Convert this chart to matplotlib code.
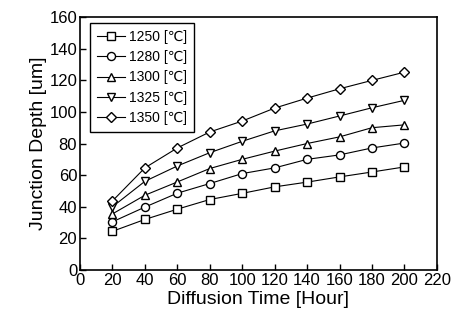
import matplotlib
matplotlib.use("Agg")
import matplotlib.pyplot as plt

plt.rcParams['font.family'] = ['Liberation Sans Narrow', 'Liberation Sans', 'DejaVu Sans']

# Diffusion time (hour)
hours = [20, 40, 60, 80, 100, 120, 140, 160, 180, 200]

# Junction depth (um) per temperature
depth_1250 = [24.5, 32, 38.5, 44.6, 48.5, 52.6, 55.6, 58.9, 62, 65.2]
depth_1280 = [30.5, 39.8, 48.6, 54.7, 61, 64.6, 70, 72.8, 77.2, 80.3]
depth_1300 = [35.5, 47.3, 55.7, 64.2, 70, 75.2, 80, 84.2, 90, 91.8]
depth_1325 = [40, 56.1, 65.8, 74.2, 81.4, 88, 92.3, 97.4, 102.6, 107.3]
depth_1350 = [43.7, 64.6, 77.2, 87.3, 94.2, 102.4, 108.7, 114.6, 119.9, 125.1]

labels = ['1250 [℃]', '1280 [℃]', '1300 [℃]', '1325 [℃]', '1350 [℃]']
markers = ['s', 'o', '^', 'v', 'D']
series = [depth_1250, depth_1280, depth_1300, depth_1325, depth_1350]

fig = plt.figure(figsize=(4.57, 3.2), dpi=100)
ax = fig.add_axes([0.175, 0.156, 0.781, 0.791])

for ys, lab, mk in zip(series, labels, markers):
    ms = 5.8 if mk != 'D' else 5.0
    ax.plot(hours, ys, color='black', lw=0.8, marker=mk, ms=ms,
            mfc='white', mec='black', mew=1.0, label=lab)

ax.set_xlim(0, 220)
ax.set_ylim(0, 160)
ax.set_xticks(range(0, 221, 20))
ax.set_yticks(range(0, 161, 20))
ax.tick_params(direction='in', length=4, width=1, labelsize=12, pad=2)
for s in ax.spines.values():
    s.set_linewidth(1.2)

ax.set_xlabel('Diffusion Time [Hour]', fontsize=14, labelpad=2)
ax.set_ylabel('Junction Depth [um]', fontsize=14, labelpad=2)

leg = ax.legend(loc='upper left', bbox_to_anchor=(0.028, 0.976), borderaxespad=0,
                fancybox=False, edgecolor='black', fontsize=10,
                handlelength=2.0, handletextpad=0.3, labelspacing=0.45,
                borderpad=0.5, framealpha=1)
leg.get_frame().set_linewidth(1.0)

fig.savefig('out.png', dpi=100)
